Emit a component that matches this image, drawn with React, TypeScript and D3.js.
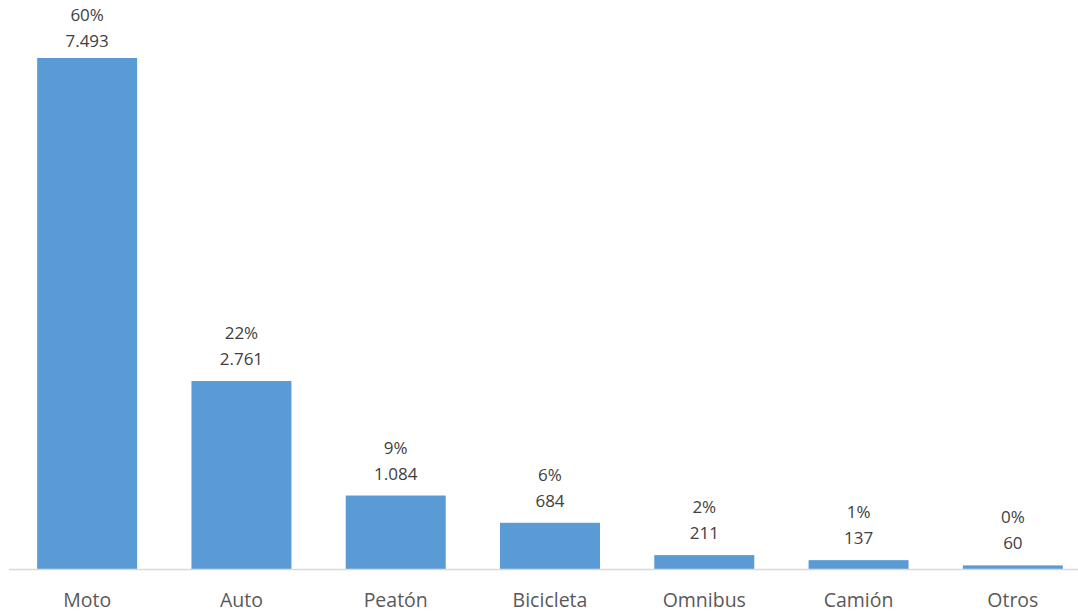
import { useEffect, useRef } from "react";
import * as d3 from "d3";

const categories = ["Moto", "Auto", "Peatón", "Bicicleta", "Omnibus", "Camión", "Otros"];
const values = [7493, 2761, 1084, 684, 211, 137, 60];
const percents = ["60%", "22%", "9%", "6%", "2%", "1%", "0%"];

const width = 1078;
const height = 612;
const baseline = 569.5;

const App = () => {
  const ref = useRef<SVGSVGElement>(null!);

  useEffect(() => {
    const svg = d3.select(ref.current);
    svg.selectAll("*").remove();

    const x = d3
      .scaleBand<string>()
      .domain(categories)
      .range([10, 1090])
      .paddingInner(0.352)
      .paddingOuter(0.176);

    const y = d3.scaleLinear().domain([0, 7493]).range([baseline, 58]);

    const font = "'Open Sans', 'DejaVu Sans', sans-serif";
    const fmt = (v: number) => d3.format(",")(v).replace(/,/g, ".");

    svg
      .append("g")
      .selectAll("rect")
      .data(values)
      .enter()
      .append("rect")
      .attr("x", (_, i) => x(categories[i])!)
      .attr("width", x.bandwidth())
      .attr("y", (d) => y(d))
      .attr("height", (d) => baseline - y(d))
      .attr("fill", "#5b9bd5");

    svg
      .append("line")
      .attr("x1", 9)
      .attr("x2", width)
      .attr("y1", baseline)
      .attr("y2", baseline)
      .attr("stroke", "#d9d9d9")
      .attr("stroke-width", 1.5);

    const labels = svg
      .append("g")
      .attr("font-family", font)
      .attr("font-size", 17)
      .attr("fill", "#404040")
      .attr("text-anchor", "middle");

    values.forEach((v, i) => {
      const cx = x(categories[i])! + x.bandwidth() / 2;
      const vy = Math.max(y(v) - 16, 47);
      labels.append("text").attr("x", cx).attr("y", vy).text(fmt(v));
      labels.append("text").attr("x", cx).attr("y", vy - 26).text(percents[i]);
    });

    svg
      .append("g")
      .attr("font-family", font)
      .attr("font-size", 19.5)
      .attr("fill", "#595959")
      .attr("text-anchor", "middle")
      .selectAll("text")
      .data(categories)
      .enter()
      .append("text")
      .attr("x", (d) => x(d)! + x.bandwidth() / 2)
      .attr("y", 607)
      .text((d) => d);
  }, []);

  return (
    <div style={{ position: "absolute", left: 0, top: 0, background: "#fff" }}>
      <svg ref={ref} width={width} height={height} />
    </div>
  );
};

export default App;
